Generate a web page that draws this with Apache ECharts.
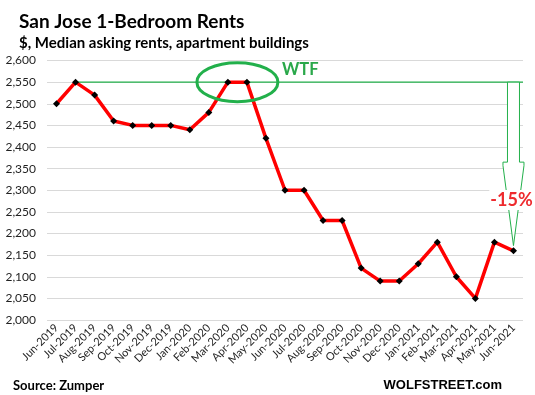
<!DOCTYPE html>
<html>
<head>
<meta charset="utf-8">
<script src="https://cdn.jsdelivr.net/npm/echarts@6/dist/echarts.min.js"></script>
<style>
html,body{margin:0;padding:0;background:#fff;}
#c{width:535px;height:395px;}
</style>
</head>
<body>
<div id="c"></div>
<script>
const categories = ['Jun-2019','Jul-2019','Aug-2019','Sep-2019','Oct-2019','Nov-2019','Dec-2019','Jan-2020','Feb-2020','Mar-2020','Apr-2020','May-2020','Jun-2020','Jul-2020','Aug-2020','Sep-2020','Oct-2020','Nov-2020','Dec-2020','Jan-2021','Feb-2021','Mar-2021','Apr-2021','May-2021','Jun-2021'];
const rents = [2500,2550,2520,2460,2450,2450,2450,2440,2480,2550,2550,2420,2300,2300,2230,2230,2120,2090,2090,2130,2180,2100,2050,2180,2160];
const peakValue = 2550;
const arrowTipValue = 2172;
const arrowHeadValue = 2365;
const FONT = 'Lato, "Liberation Sans", sans-serif';

const chart = echarts.init(document.getElementById('c'));
chart.setOption({
  backgroundColor: '#ffffff',
  animation: false,
  grid: { left: 47, right: 12, top: 60.5, bottom: 75, containLabel: false },
  title: [
    { text: 'San Jose 1-Bedroom Rents', left: 14, top: 7,
      textStyle: { fontFamily: FONT, fontWeight: 'bold', fontSize: 19, color: '#000' } },
    { text: '$, Median asking rents, apartment buildings', left: 14, top: 31,
      textStyle: { fontFamily: FONT, fontWeight: 'bold', fontSize: 15, color: '#000' } }
  ],
  xAxis: {
    type: 'category',
    data: categories,
    boundaryGap: true,
    axisLine: { show: false },
    axisTick: { show: false },
    axisLabel: { interval: 0, rotate: 45, fontFamily: FONT, fontSize: 11, color: '#1f1f1f', margin: 6 }
  },
  yAxis: {
    type: 'value',
    min: 2000, max: 2600, interval: 50,
    axisLine: { show: false },
    axisTick: { show: false },
    splitLine: { lineStyle: { color: '#d9d9d9', width: 1 } },
    axisLabel: { fontFamily: FONT, fontSize: 12, color: '#1f1f1f', margin: 11,
      formatter: v => v.toLocaleString('en-US') }
  },
  series: [{
    type: 'line',
    data: rents,
    z: 5,
    lineStyle: { color: '#ff0000', width: 3.5 },
    symbol: 'diamond',
    symbolSize: 7,
    itemStyle: { color: '#000000' }
  }]
});

// annotations, positioned through the axes
const px = (cat, v) => chart.convertToPixel({ xAxisIndex: 0, yAxisIndex: 0 }, [cat, v]);
const last = categories[categories.length - 1];
const band = px(categories[1], peakValue)[0] - px(categories[0], peakValue)[0];
const pStart = px(categories[1], peakValue);
const pLast = px(last, peakValue);
const rightEdge = pLast[0] + band / 2;
const pMar = px('Mar-2020', peakValue);
const pApr = px('Apr-2020', peakValue);
const ex = (pMar[0] + pApr[0]) / 2, ey = pMar[1];
const ax = pLast[0];
const yTop = pLast[1];
const yHead = px(last, arrowHeadValue)[1];
const yTip = px(last, arrowTipValue)[1];
const green = '#22b04b';

chart.setOption({
  graphic: [
    { type: 'line', z: 3, shape: { x1: pStart[0], y1: pStart[1], x2: rightEdge, y2: pStart[1] },
      style: { stroke: green, lineWidth: 1.2 } },
    { type: 'ellipse', z: 10, shape: { cx: ex, cy: ey, rx: 40.5, ry: 19.5 },
      style: { stroke: green, lineWidth: 3, fill: null } },
    { type: 'text', z: 10, x: 282, y: 70,
      style: { text: 'WTF', fontFamily: FONT, fontWeight: 'bold', fontSize: 16.5, fill: '#2aa84a',
        verticalAlign: 'middle' } },
    { type: 'polygon', z: 10,
      shape: { points: [
        [ax - 6, yTop], [ax - 6, yHead], [ax - 10.5, yHead], [ax - 10.5, yHead + 3.5],
        [ax, yTip], [ax + 10.5, yHead + 3.5], [ax + 10.5, yHead], [ax + 6, yHead], [ax + 6, yTop]
      ] },
      style: { stroke: green, lineWidth: 1, fill: '#ffffff' } },
    { type: 'text', z: 11, x: ax - 2, y: 200,
      style: { text: '-15%', fontFamily: FONT, fontWeight: 'bold', fontSize: 18, fill: '#ee2a2e',
        align: 'center', verticalAlign: 'middle', backgroundColor: '#ffffff', padding: [1, 1] } },
    { type: 'text', z: 10, x: 13, y: 386,
      style: { text: 'Source: Zumper', fontFamily: FONT, fontWeight: 'bold', fontSize: 13, fill: '#000',
        verticalAlign: 'middle' } },
    { type: 'text', z: 10, x: 502, y: 385,
      style: { text: 'WOLFSTREET.com', fontFamily: '"Liberation Sans", Arial, sans-serif', fontWeight: 'bold',
        fontSize: 13, fill: '#000', align: 'right', verticalAlign: 'middle' } }
  ]
});
</script>
</body>
</html>
